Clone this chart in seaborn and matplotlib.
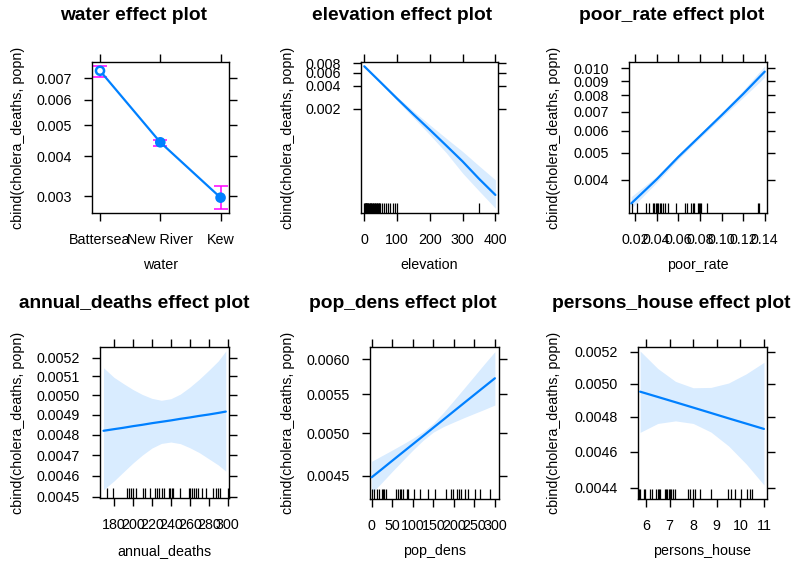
import matplotlib
matplotlib.use("Agg")
import matplotlib.pyplot as plt
import seaborn as sns
import pandas as pd

# ---------------- data ----------------
water_levels = ["Battersea", "New River", "Kew"]
water_fit = [0.00739, 0.00442, 0.00297]
water_lower = [0.00705, 0.00431, 0.00273]
water_upper = [0.00763, 0.00451, 0.00322]

elev_x = [0, 50, 100, 150, 200, 250, 300, 350, 400]
elev_fit = [0.00728, 0.00446, 0.00272, 0.00168, 0.00105, 0.00065, 0.00040, 0.000236, 0.000144]
elev_lower = [0.00714, 0.00433, 0.00256, 0.00152, 0.00090, 0.000522, 0.00028, 0.000163, 0.0000961]
elev_upper = [0.00743, 0.00460, 0.00289, 0.00186, 0.00122, 0.00081, 0.000542, 0.00035, 0.000228]
elev_rug = [0, 2, 3, 4, 5, 6, 8, 9, 10, 12, 14, 16, 18, 20, 22, 24, 26, 28, 30, 32, 34, 36,
            38, 40, 42, 44, 46, 48, 53, 59, 65, 73, 79, 87, 94, 101, 350]

poor_x = [0.0165, 0.04, 0.06, 0.08, 0.10, 0.12, 0.14]
poor_fit = [0.0033, 0.00402, 0.00483, 0.00573, 0.0068, 0.0081, 0.00973]
poor_lower = [0.00317, 0.00392, 0.00474, 0.00564, 0.00667, 0.00787, 0.0093]
poor_upper = [0.00349, 0.00412, 0.00492, 0.00582, 0.00694, 0.00834, 0.0102]
poor_rug = [0.0175, 0.0221, 0.0299, 0.033, 0.0369, 0.0379, 0.0394, 0.0404, 0.0416, 0.0428,
            0.0441, 0.0456, 0.0478, 0.0502, 0.0576, 0.0662, 0.0678, 0.0721, 0.0737, 0.0746,
            0.0783, 0.0792, 0.0801, 0.0811, 0.0869, 0.1335, 0.135]

annual_x = [169, 180, 190, 200, 210, 220, 230, 240, 250, 260, 270, 280, 290, 298]
annual_fit = [0.00482, 0.004828, 0.004835, 0.004843, 0.00485, 0.004858, 0.004865, 0.004872,
              0.00488, 0.004887, 0.004895, 0.004902, 0.00491, 0.004917]
annual_lower = [0.004534, 0.004575, 0.004618, 0.004661, 0.0047, 0.004734, 0.004757, 0.004764,
                0.004756, 0.004736, 0.004712, 0.004682, 0.004652, 0.004622]
annual_upper = [0.005146, 0.005095, 0.005062, 0.005031, 0.005005, 0.004985, 0.004975, 0.004983,
                0.005007, 0.005043, 0.005085, 0.005132, 0.005182, 0.005236]
annual_rug = [172.3, 179, 194, 195.7, 197.5, 200.4, 202.8, 210.9, 213.3, 218.5, 223.8, 225.9,
              228, 230.8, 233.2, 238, 239.5, 241, 242, 250, 258.7, 260.5, 262.3, 264.7,
              266.8, 269.2, 272.8, 277.3, 285, 287.5, 290.2, 292, 300.7]

pop_x = [0, 25, 50, 75, 100, 125, 150, 175, 200, 225, 250, 275, 300]
pop_fit = [0.004482, 0.004574, 0.004669, 0.004765, 0.004863, 0.004963, 0.005066, 0.00517,
           0.005277, 0.005386, 0.005497, 0.00561, 0.005725]
pop_lower = [0.004308, 0.004425, 0.004547, 0.004669, 0.004792, 0.00491, 0.005011, 0.005081,
             0.005138, 0.005194, 0.005248, 0.005302, 0.005359]
pop_upper = [0.004663, 0.004728, 0.004794, 0.004863, 0.004935, 0.005017, 0.005121, 0.005262,
             0.00542, 0.005586, 0.005758, 0.005936, 0.006115]
pop_rug = [0, 5.6, 12, 17.8, 25.9, 28.3, 30.7, 34, 59, 63, 68, 71.3, 75.4, 86, 87.6, 103.7,
           117.5, 137.8, 154, 180, 193, 198.6, 206.8, 212.4, 217.3, 227, 235, 251.3, 263.5, 287.8]

pers_x = [5.75, 6.5, 7.25, 8, 8.75, 9.5, 10.25, 11]
pers_fit = [0.004952, 0.00492, 0.004888, 0.004856, 0.004824, 0.004792, 0.004761, 0.00473]
pers_lower = [0.00471, 0.004762, 0.004777, 0.004762, 0.004712, 0.004632, 0.00453, 0.004415]
pers_upper = [0.005206, 0.005095, 0.005015, 0.004976, 0.004978, 0.005005, 0.005062, 0.005134]
pers_rug = [5.69, 5.76, 5.9, 5.97, 6.18, 6.25, 6.42, 6.51, 6.54, 6.58, 6.82, 6.86, 6.9, 6.96,
            7.0, 7.07, 7.13, 7.24, 7.78, 7.88, 7.99, 8.09, 8.3, 8.77, 9.47, 9.6, 9.78, 10.04,
            10.28, 10.42, 10.49]

ylab = "cbind(cholera_deaths, popn)"

# ---------------- style ----------------
sns.set_style("white")
plt.rcParams["font.family"] = ["Liberation Sans", "DejaVu Sans"]
plt.rcParams["text.color"] = "black"
plt.rcParams["axes.labelcolor"] = "black"
plt.rcParams["xtick.color"] = "black"
plt.rcParams["ytick.color"] = "black"

LINE = "#0080FF"
BAND = "#D9ECFF"
W, H = 806, 572
fig = plt.figure(figsize=(W / 100, H / 100), dpi=100)


def make_ax(x0, y0, x1, y1):
    return fig.add_axes([x0 / W, 1 - y1 / H, (x1 - x0) / W, (y1 - y0) / H])


def style(ax, xlim, ylim, xticks, xlabels, yticks, ylabels):
    ax.set_yscale("log")
    ax.set_xlim(*xlim)
    ax.set_ylim(*ylim)
    ax.set_xticks(xticks)
    ax.set_xticklabels(xlabels)
    ax.set_yticks(yticks)
    ax.set_yticklabels(ylabels)
    ax.minorticks_off()
    for s in ax.spines.values():
        s.set_visible(True)
        s.set_color("black")
        s.set_linewidth(1.0)
    ax.tick_params(axis="both", which="major", direction="out", length=6, width=1,
                   color="black", labelsize=10.3, labelcolor="black",
                   top=True, right=True, bottom=True, left=True,
                   labeltop=False, labelright=False)
    ax.tick_params(axis="x", pad=8.4)
    ax.tick_params(axis="y", pad=8.5)
    ax.set_xlabel("")
    ax.set_ylabel("")


def labels(ax_box, title_cx, title_y, xlabel_y, ylabel_x, xlabel):
    x0, y0, x1, y1 = ax_box
    fig.text(title_cx / W, 1 - title_y / H, xlabel + " effect plot", ha="center", va="center",
             fontsize=13.8, fontweight="bold", color="black")
    fig.text((x0 + x1) / 2 / W, 1 - xlabel_y / H, xlabel, ha="center", va="center",
             fontsize=10.3, color="black")
    fig.text(ylabel_x / W, 1 - (y0 + y1) / 2 / H, ylab, ha="center", va="center",
             rotation=90, fontsize=10.3, color="black")


def curve_panel(box, x, fit, lo, hi, rug):
    ax = make_ax(*box)
    ax.fill_between(x, lo, hi, color=BAND, linewidth=0, zorder=1)
    sns.lineplot(x=x, y=fit, ax=ax, color=LINE, linewidth=1.6, zorder=3)
    rug_h = 10 / (box[3] - box[1])
    sns.rugplot(x=rug, ax=ax, height=rug_h, color="black", linewidth=0.9, expand_margins=False)
    return ax


# ---- panel 1: water ----
box1 = (92, 62, 229, 213)
ax1 = make_ax(*box1)
wdf = pd.DataFrame({"water": water_levels, "fit": water_fit})
sns.lineplot(data=wdf, x="water", y="fit", ax=ax1, color=LINE, linewidth=1.6, sort=False, zorder=3)
pos = list(range(len(water_levels)))
ax1.errorbar(pos, water_fit,
             yerr=[[f - l for f, l in zip(water_fit, water_lower)],
                   [u - f for f, u in zip(water_fit, water_upper)]],
             fmt="none", ecolor="#FF00FF", elinewidth=1.1, capsize=5, capthick=1.1, zorder=2)
ax1.scatter(pos, water_fit, s=34, facecolors=["white", LINE, LINE], edgecolors=LINE,
            linewidths=1.8, zorder=4)
style(ax1, (-0.133, 2.14), (0.00266, 0.00787), pos, water_levels,
      [0.003, 0.004, 0.005, 0.006, 0.007], ["0.003", "0.004", "0.005", "0.006", "0.007"])
labels(box1, 134, 16, 265, 18, "water")

# ---- panel 2: elevation ----
box2 = (361, 62, 498, 213)
ax2 = curve_panel(box2, elev_x, elev_fit, elev_lower, elev_upper, elev_rug)
style(ax2, (-10, 408), (0.000083, 0.0083), [0, 100, 200, 300, 400],
      ["0", "100", "200", "300", "400"],
      [0.002, 0.004, 0.006, 0.008], ["0.002", "0.004", "0.006", "0.008"])
labels(box2, 402.5, 16, 265, 288, "elevation")

# ---- panel 3: poor_rate ----
box3 = (629, 62, 767, 213)
ax3 = curve_panel(box3, poor_x, poor_fit, poor_lower, poor_upper, poor_rug)
pt = [0.02, 0.04, 0.06, 0.08, 0.10, 0.12, 0.14]
style(ax3, (0.0144, 0.1421), (0.00305, 0.01053), pt, [f"{v:.2f}" for v in pt],
      [0.004, 0.005, 0.006, 0.007, 0.008, 0.009, 0.010],
      ["0.004", "0.005", "0.006", "0.007", "0.008", "0.009", "0.010"])
labels(box3, 671.5, 16, 265, 554, "poor_rate")

# ---- panel 4: annual_deaths ----
box4 = (100, 347, 229, 498)
ax4 = curve_panel(box4, annual_x, annual_fit, annual_lower, annual_upper, annual_rug)
at = [180, 200, 220, 240, 260, 280, 300]
ay = [0.0045, 0.0046, 0.0047, 0.0048, 0.0049, 0.0050, 0.0051, 0.0052]
style(ax4, (165.3, 301.4), (0.004495, 0.005258), at, [str(v) for v in at],
      ay, [f"{v:.4f}" for v in ay])
labels(box4, 134, 303, 550.7, 18, "annual_deaths")

# ---- panel 5: pop_dens ----
box5 = (370, 347, 499, 499)
ax5 = curve_panel(box5, pop_x, pop_fit, pop_lower, pop_upper, pop_rug)
ptk = [0, 50, 100, 150, 200, 250, 300]
py = [0.0045, 0.0050, 0.0055, 0.0060]
style(ax5, (-4, 310), (0.004248, 0.006185), ptk, [str(v) for v in ptk],
      py, [f"{v:.4f}" for v in py])
labels(box5, 402.5, 303, 550.7, 288, "pop_dens")

# ---- panel 6: persons_house ----
box6 = (638, 347, 767, 499)
ax6 = curve_panel(box6, pers_x, pers_fit, pers_lower, pers_upper, pers_rug)
htk = [6, 7, 8, 9, 10, 11]
hy = [0.0044, 0.0046, 0.0048, 0.0050, 0.0052]
style(ax6, (5.66, 11.13), (0.004339, 0.005232), htk, [str(v) for v in htk],
      hy, [f"{v:.4f}" for v in hy])
labels(box6, 671.5, 303, 550.7, 554, "persons_house")

fig.savefig("out.png", dpi=100, facecolor="white")
